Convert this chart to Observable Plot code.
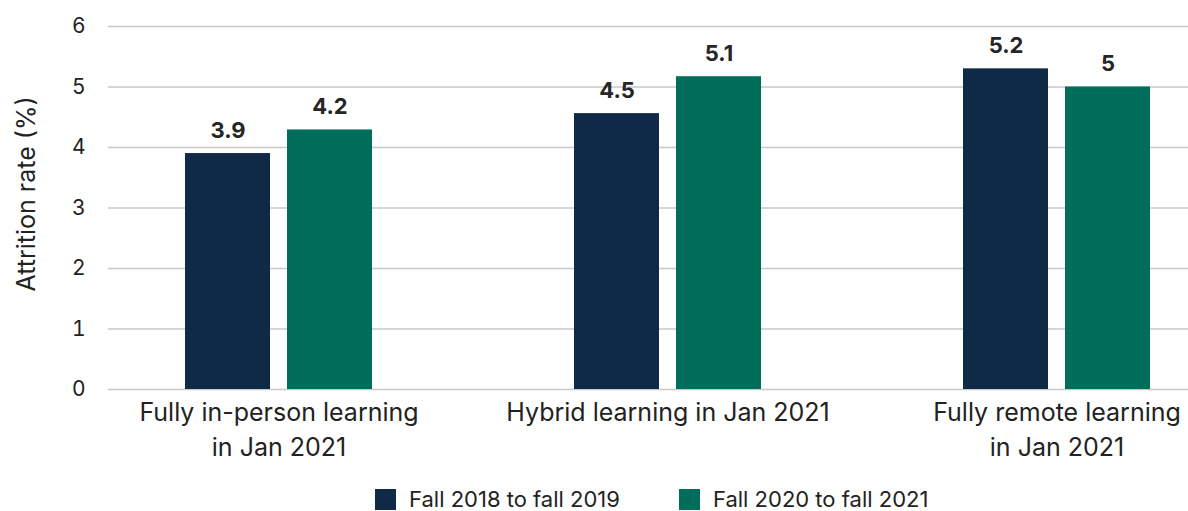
<!DOCTYPE html>
<html><head><meta charset="utf-8">
<script src="https://cdn.jsdelivr.net/npm/d3@7"></script>
<script src="https://cdn.jsdelivr.net/npm/@observablehq/plot@0.6"></script>
<style>
body{margin:0;background:#fff;font-family:Inter, sans-serif;}
.lg-swatches{margin-top:18px !important; min-height:22px !important; margin-bottom:0 !important;}
.lg-swatch{margin-right:59px !important; line-height:22px !important;}
.lg-swatch > svg{margin-right:13px !important;}
</style></head><body><div id="chart"></div><script>
const groups = ["Fully in-person learning\nin Jan 2021", "Hybrid learning in Jan 2021", "Fully remote learning\nin Jan 2021"];
const series = ["Fall 2018 to fall 2019", "Fall 2020 to fall 2021"];
const valuesA = [3.9, 4.56, 5.3];
const valuesB = [4.29, 5.17, 5.0];
const labelsA = ["3.9", "4.5", "5.2"];
const labelsB = ["4.2", "5.1", "5"];
const yTicks = [0, 1, 2, 3, 4, 5, 6];
const colors = ["#0e2a47", "#006e5b"];

const rowsA = groups.map((g, i) => ({group: g, series: series[0], value: valuesA[i], label: labelsA[i]}));
const rowsB = groups.map((g, i) => ({group: g, series: series[1], value: valuesB[i], label: labelsB[i]}));

const chart = Plot.plot({
  width: 1188,
  height: 470,
  marginLeft: 108,
  marginRight: 0,
  marginTop: 26,
  marginBottom: 81,
  style: {fontFamily: "Inter, sans-serif", fontSize: "21px", color: "#222", overflow: "visible", background: "#fff"},
  x: {type: "band", domain: groups, range: [83.6, 1250.6], padding: 0},
  y: {domain: [0, 6]},
  color: {domain: series, range: colors},
  marks: [
    Plot.gridY(yTicks, {stroke: "#c8c8c8", strokeOpacity: 1, strokeWidth: 1.5}),
    Plot.axisY(yTicks, {tickSize: 0, tickPadding: 23, fontSize: 21, label: null, fill: "#222", tickFormat: d => String(d)}),
    Plot.axisX({tickSize: 0, tickPadding: 7, fontSize: 25, label: null, lineHeight: 1.4, fill: "#222"}),
    Plot.barY(rowsA, {x: "group", y: "value", fill: "series", insetLeft: 101, insetRight: 203}),
    Plot.barY(rowsB, {x: "group", y: "value", fill: "series", insetLeft: 203, insetRight: 101}),
    Plot.text(rowsA, {x: "group", y: "value", text: "label", dx: -51, dy: -23, fontWeight: 700, fontSize: 22, fill: "#262626"}),
    Plot.text(rowsB, {x: "group", y: "value", text: "label", dx: 51, dy: -23, fontWeight: 700, fontSize: 22, fill: "#262626"}),
    Plot.text(["Attrition rate (%)"], {frameAnchor: "left", textAnchor: "middle", text: d => d, rotate: -90, dx: -82, dy: -14, fontSize: 25, fill: "#222"})
  ]
});
document.getElementById("chart").append(chart);

const legend = Plot.legend({
  color: {domain: series, range: colors},
  swatchSize: 21,
  className: "lg",
  marginLeft: 375,
  style: {fontFamily: "Inter, sans-serif", fontSize: "22px", color: "#222"}
});
document.getElementById("chart").append(legend);
</script></body></html>
